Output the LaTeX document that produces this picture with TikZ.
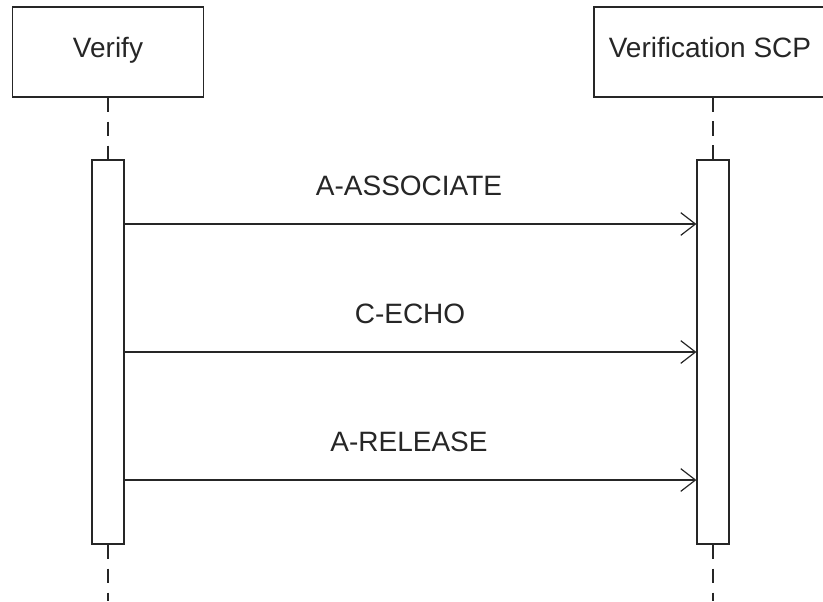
\documentclass[tikz,border=0pt]{standalone}
\usepackage{fontspec}
\setmainfont{Liberation Sans}
\usetikzlibrary{arrows.meta}

\begin{document}
\begin{tikzpicture}[x=0.75pt,y=-0.75pt,line width=0.9pt,black!85,
  actor/.style={rectangle,draw,minimum height=67.5pt,text height=0.8em,text depth=0em,font=\fontsize{21}{25}\selectfont},
  bar/.style={rectangle,draw,fill=white,minimum width=24pt,minimum height=288pt,inner sep=0pt},
  life/.style={dash pattern=on 11pt off 7pt},
  msg/.style={-{Straight Barb[length=11pt,width=17pt,line width=0.9pt]}},
  label/.style={font=\fontsize{21}{25}\selectfont}]
  \useasboundingbox (0,0) rectangle (823,601);
  \node[actor,minimum width=143pt] (verify) at (108,52) {Verify};
  \node[actor,minimum width=174pt] (scp) at (710,52) {Verification SCP};
  \node[bar] (bar1) at (108,352) {};
  \node[bar] (bar2) at (713,352) {};
  \coordinate (end1) at (108,601);
  \coordinate (end2) at (713,601);
  \coordinate (top2) at (713,97);
  \path
    (verify) edge[life] (bar1)
    (top2) edge[life] (bar2)
    (bar1) edge[life] (end1)
    (bar2) edge[life] (end2);
  \draw[msg] (bar1.east |- 0,224) -- (bar2.west |- 0,224);
  \draw[msg] (bar1.east |- 0,352) -- (bar2.west |- 0,352);
  \draw[msg] (bar1.east |- 0,480) -- (bar2.west |- 0,480);
  \node[label] (assoc) at (409,186) {A-ASSOCIATE};
  \node[label] (echo) at (410,314) {C-ECHO};
  \node[label] (release) at (409,442) {A-RELEASE};
\end{tikzpicture}
\end{document}
